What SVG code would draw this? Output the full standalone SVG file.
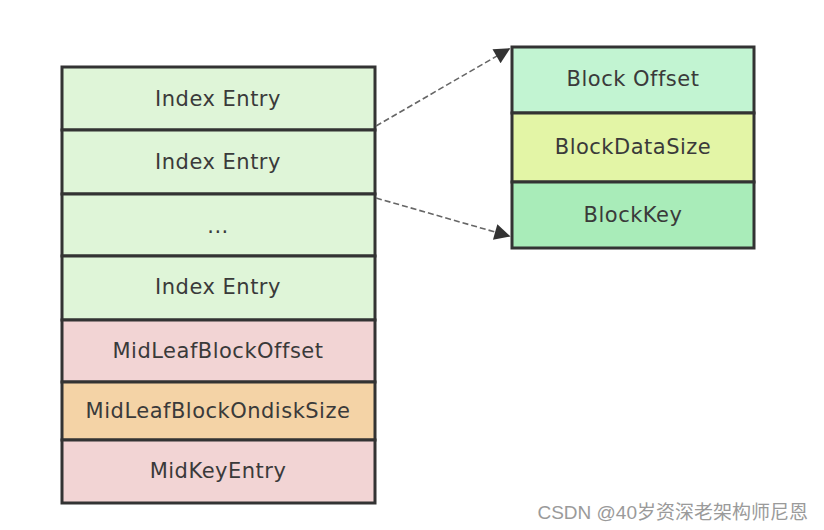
<svg xmlns="http://www.w3.org/2000/svg" width="824" height="530" viewBox="0 0 824 530">
<style>
.c{stroke:#333;stroke-width:3}
.t{font-family:"DejaVu Sans",Verdana,sans-serif;font-size:21px;letter-spacing:0.5px;fill:#3a3a3a;text-anchor:middle;dominant-baseline:central}
.g{fill:#dff5d8}.p{fill:#f2d4d4}.o{fill:#f4d3a6}
.e{stroke:#666;stroke-width:1.6;stroke-dasharray:6 3;fill:none}
</style>
<defs>
<marker id="ah" viewBox="0 0 10 10" refX="9" refY="5" markerWidth="13" markerHeight="10" markerUnits="strokeWidth" orient="auto">
<path d="M0,0L10,5L0,10z" fill="#333"/>
</marker>
</defs>
<rect width="824" height="530" fill="#fff"/>
<g id="left">
<g id="n1"><rect class="c g" x="62" y="67" width="313" height="63"/><text class="t" x="218" y="99">Index Entry</text></g>
<g id="n2"><rect class="c g" x="62" y="130" width="313" height="64"/><text class="t" x="218" y="162">Index Entry</text></g>
<g id="n3"><rect class="c g" x="62" y="194" width="313" height="62"/><text class="t" x="218" y="226">...</text></g>
<g id="n4"><rect class="c g" x="62" y="256" width="313" height="64"/><text class="t" x="218" y="287">Index Entry</text></g>
<g id="n5"><rect class="c p" x="62" y="320" width="313" height="62"/><text class="t" x="218" y="351">MidLeafBlockOffset</text></g>
<g id="n6"><rect class="c o" x="62" y="382" width="313" height="58"/><text class="t" x="218" y="411">MidLeafBlockOndiskSize</text></g>
<g id="n7"><rect class="c p" x="62" y="440" width="313" height="63"/><text class="t" x="218" y="471">MidKeyEntry</text></g>
</g>
<g id="right">
<g id="r1"><rect class="c" fill="#c2f4d2" x="512" y="47" width="242" height="66"/><text class="t" x="633" y="79">Block Offset</text></g>
<g id="r2"><rect class="c" fill="#e3f5a6" x="512" y="113" width="242" height="69"/><text class="t" x="633" y="147">BlockDataSize</text></g>
<g id="r3"><rect class="c" fill="#a9ecb9" x="512" y="182" width="242" height="66"/><text class="t" x="633" y="215">BlockKey</text></g>
</g>
<g id="connectors">
<path class="e" d="M376,126 L509,49" marker-end="url(#ah)"/>
<path class="e" d="M376,198 L509,236" marker-end="url(#ah)"/>
</g>
<text x="808" y="519" font-family="'Liberation Sans','Noto Sans CJK SC',sans-serif" font-size="19" fill="#9a9a9a" text-anchor="end">CSDN @40岁资深老架构师尼恩</text>
</svg>
